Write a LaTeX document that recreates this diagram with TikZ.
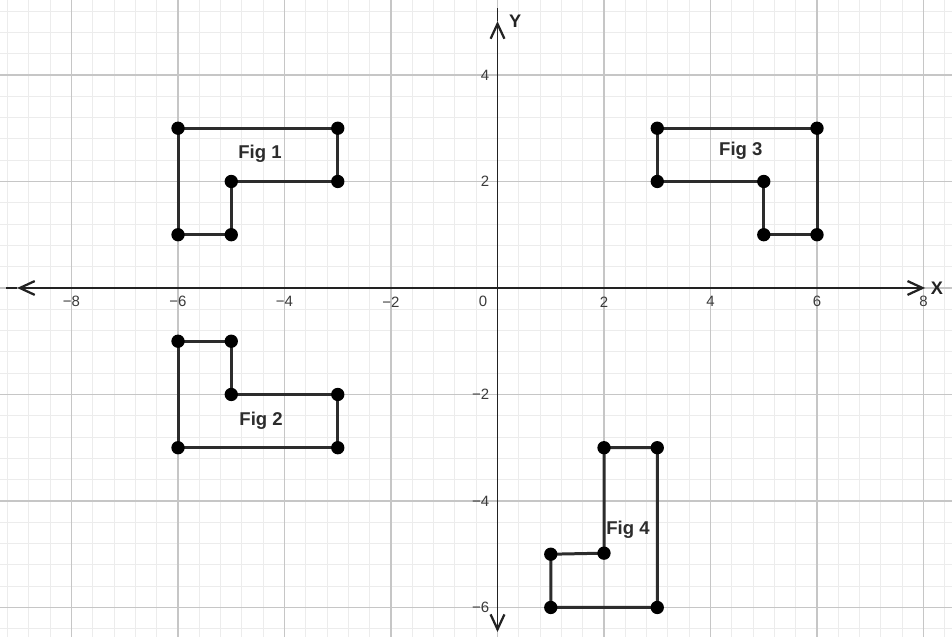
\documentclass[tikz,border=0pt]{standalone}
\usepackage{fontspec}
\setmainfont{Liberation Sans}
\usetikzlibrary{arrows.meta}
\definecolor{Canvas}{HTML}{FFFFFF}
\definecolor{MinorGrid}{HTML}{ECECEC}
\definecolor{MajorGrid}{HTML}{C6C6C6}
\definecolor{Axis}{HTML}{222222}
\definecolor{Tick}{HTML}{3A3A3A}
\definecolor{Shape}{HTML}{2C2C2C}

\begin{document}
\begin{tikzpicture}[
  minor/.style={
    draw=MinorGrid,
    line width=0.5pt
  },
  major/.style={
    draw=MajorGrid,
    line width=0.6pt
  },
  axis/.style={
    {Straight Barb[length=2.8mm,width=2.6mm,line width=1.2pt]}-{Straight Barb[length=2.8mm,width=2.6mm,line width=1.2pt]},
    line width=0.7pt,
    draw=Axis
  },
  axisline/.style={
    line width=0.7pt,
    draw=Axis
  },
  tick/.style={
    text=Tick,
    inner sep=0pt,
    font=\fontsize{8}{9.5}\selectfont
  },
  axislabel/.style={
    text=Axis,
    inner sep=0pt,
    font=\bfseries\fontsize{9.7}{11}\selectfont
  },
  outline/.style={
    draw=Shape,
    line width=1.6pt,
    line join=round
  },
  figlabel/.style={
    text=Shape,
    inner sep=0pt,
    font=\bfseries\fontsize{9.9}{12}\selectfont
  }
]

\fill[Canvas] (-9.343,-6.554) rectangle (8.535,5.408);
\useasboundingbox (-9.343,-6.554) rectangle (8.535,5.408);

% grid
\draw[minor, step=0.4] (-9.343,-6.554) grid (8.535,5.408);
\draw[major, step=2] (-9.343,-6.554) grid (8.535,5.408);

% axes
\coordinate (xl) at (-9.02,0);
\coordinate (xr) at (8.03,0);
\coordinate (yt) at (0,5.01);
\coordinate (yb) at (0,-6.46);

\draw[axis] (xl) -- (xr);
\draw[axis] (yb) -- (yt);
\draw[axisline] (xl) -- ++(-0.21,0);
\draw[axisline] (yt) -- ++(0,0.25);

\node[axislabel] (xname) at (8.25,0) {X};
\node[axislabel] (yname) at (0.33,5.0) {Y};

\foreach \x/\lab [count=\i] in {-8/−8, -6/−6, -4/−4, -2/−2, 2/2, 4/4, 6/6, 8/8}
  \node[tick] (xtick\i) at (\x,-0.26) {\lab};
\node[tick] (origin) at (-0.27,-0.26) {0};
\foreach \y/\lab [count=\i] in {4/4, 2/2, -2/−2, -4/−4, -6/−6}
  \node[tick, anchor=east] (ytick\i) at (-0.15,\y) {\lab};

% Fig 1
\coordinate (a1) at (-6,3);
\coordinate (a2) at (-3,3);
\coordinate (a3) at (-3,2);
\coordinate (a4) at (-5,2);
\coordinate (a5) at (-5,1);
\coordinate (a6) at (-6,1);
\draw[outline] (a1) -- (a2) -- (a3) -- (a4) -- (a5) -- (a6) -- cycle;

% Fig 2
\coordinate (b1) at (-6,-1);
\coordinate (b2) at (-5,-1);
\coordinate (b3) at (-5,-2);
\coordinate (b4) at (-3,-2);
\coordinate (b5) at (-3,-3);
\coordinate (b6) at (-6,-3);
\draw[outline] (b1) -- (b2) -- (b3) -- (b4) -- (b5) -- (b6) -- cycle;

% Fig 3
\coordinate (c1) at (3,3);
\coordinate (c2) at (6,3);
\coordinate (c3) at (6,1);
\coordinate (c4) at (5,1);
\coordinate (c5) at (5,2);
\coordinate (c6) at (3,2);
\draw[outline] (c1) -- (c2) -- (c3) -- (c4) -- (c5) -- (c6) -- cycle;

% Fig 4
\coordinate (d1) at (2,-3);
\coordinate (d2) at (3,-3);
\coordinate (d3) at (3,-6);
\coordinate (d4) at (1,-6);
\coordinate (d5) at (1,-5);
\coordinate (d6) at (2,-4.98);
\draw[outline] (d1) -- (d2) -- (d3) -- (d4) -- (d5) -- (d6) -- cycle;

\foreach \p in {a,b,c,d}
  \foreach \k in {1,...,6}
    \fill[black] (\p\k) circle (0.125);

\node[figlabel] (fig1) at (-4.46,2.52) {Fig 1};
\node[figlabel] (fig2) at (-4.44,-2.50) {Fig 2};
\node[figlabel] (fig3) at (4.57,2.57) {Fig 3};
\node[figlabel] (fig4) at (2.45,-4.54) {Fig 4};

\end{tikzpicture}
\end{document}
